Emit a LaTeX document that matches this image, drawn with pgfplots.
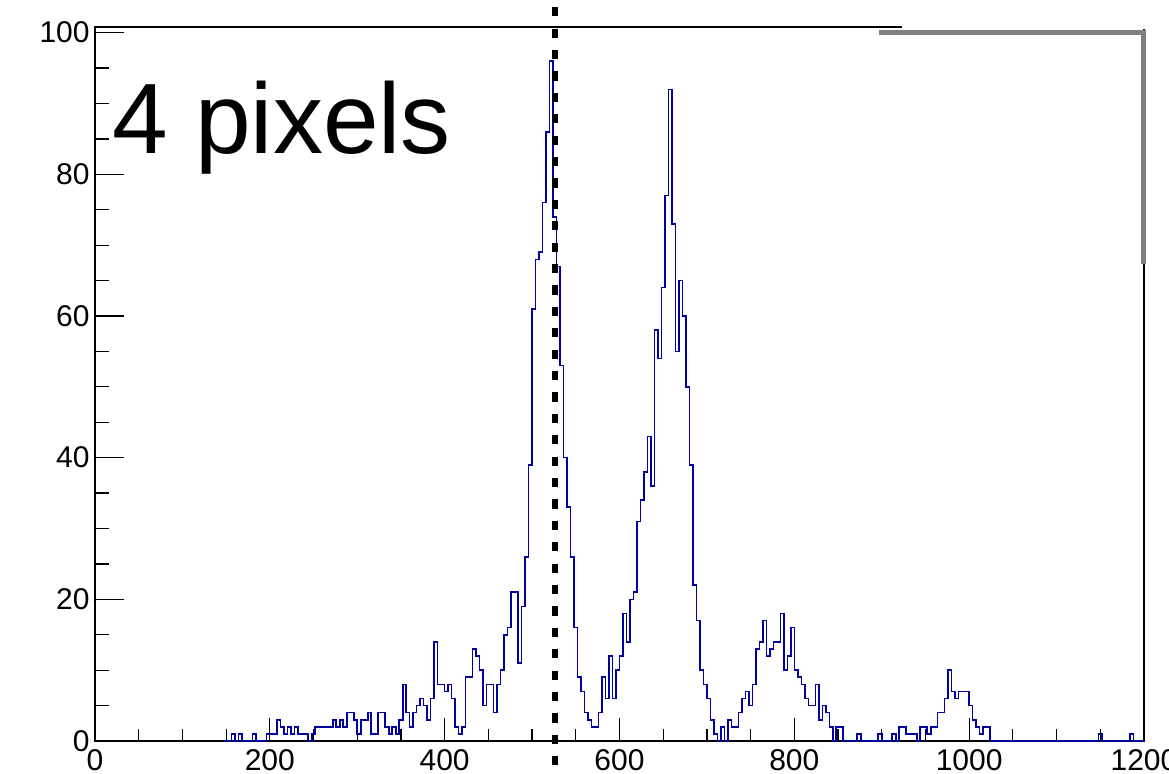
\documentclass[border=0pt]{standalone}
\usepackage{pgfplots}
\pgfplotsset{compat=1.18}
\usepackage{fontspec}
\setmainfont{Liberation Sans}
\definecolor{histblue}{RGB}{0,0,160}
\definecolor{boxgrey}{RGB}{128,128,128}
\begin{document}
\begin{tikzpicture}
\begin{axis}[
  at={(0,0)}, anchor=south west,
  scale only axis, width=524.5pt, height=357pt,
  xmin=0, xmax=1200, ymin=0, ymax=100.8,
  xtick={0,200,...,1200}, ytick={0,20,...,100},
  minor x tick num=3, minor y tick num=3,
  tick align=inside, tick pos=left,
  major tick length=11.5pt, minor tick length=6pt,
  xtick style={/pgfplots/major tick length=11.5pt,/pgfplots/minor tick length=6pt},
  ytick style={/pgfplots/major tick length=14.5pt,/pgfplots/minor tick length=7pt},
  every tick/.style={black, line width=0.6pt},
  axis line style={line width=0.7pt},
  tick label style={font=\fontsize{15}{15}\selectfont},
  yticklabel style={inner sep=0pt, xshift=-2.5pt},
  xticklabel style={inner sep=0pt, yshift=-4.3pt},
  /pgf/number format/assume math mode=true,
  /pgf/number format/set thousands separator={},
  clip=false,
]
\addplot[const plot, histblue, line width=0.8pt] coordinates {
(148,0)(152,0)(156,1)(160,0)(164,1)(168,0)(172,0)(176,0)(180,1)(184,0)
(188,0)(192,0)(196,1)(200,1)(204,1)(208,3)(212,2)(216,1)(220,2)(224,1)
(228,2)(232,1)(236,1)(240,1)(244,0)(248,1)(252,2)(256,2)(260,2)(264,2)
(268,2)(272,3)(276,2)(280,3)(284,2)(288,4)(292,4)(296,3)(300,1)(304,3)
(308,3)(312,4)(316,1)(320,1)(324,4)(328,4)(332,2)(336,1)(340,2)(344,1)
(348,3)(352,8)(356,4)(360,2)(364,4)(368,5)(372,6)(376,5)(380,3)(384,6)
(388,14)(392,8)(396,8)(400,7)(404,8)(408,6)(412,2)(416,1)(420,2)(424,9)
(428,9)(432,13)(436,12)(440,10)(444,5)(448,8)(452,8)(456,4)(460,8)(464,10)
(468,15)(472,16)(476,21)(480,21)(484,11)(488,19)(492,26)(496,39)(500,61)(504,68)
(508,69)(512,76)(516,86)(520,96)(524,74)(528,67)(532,53)(536,40)(540,33)(544,26)
(548,16)(552,9)(556,7)(560,4)(564,3)(568,2)(572,2)(576,4)(580,9)(584,6)
(588,12)(592,6)(596,10)(600,12)(604,18)(608,14)(612,20)(616,21)(620,31)(624,34)
(628,38)(632,43)(636,36)(640,58)(644,54)(648,64)(652,77)(656,92)(660,73)(664,55)
(668,65)(672,60)(676,50)(680,39)(684,22)(688,17)(692,10)(696,8)(700,6)(704,3)
(708,1)(712,0)(716,2)(720,0)(724,3)(728,2)(732,2)(736,4)(740,6)(744,7)
(748,5)(752,8)(756,13)(760,14)(764,17)(768,12)(772,13)(776,14)(780,14)(784,18)
(788,10)(792,12)(796,16)(800,10)(804,9)(808,8)(812,6)(816,5)(820,5)(824,8)
(828,3)(832,5)(836,4)(840,2)(844,0)(848,2)(852,2)(856,0)(872,1)(876,0)
(896,1)(900,0)(912,1)(916,0)(920,2)(924,2)(928,1)(932,1)(936,1)(940,0)
(944,2)(948,2)(952,1)(956,2)(960,2)(964,4)(968,4)(972,6)(976,10)(980,7)
(984,6)(988,7)(992,7)(996,7)(1000,5)(1004,3)(1008,2)(1012,1)(1016,2)(1020,2)
(1024,0)(1148,1)(1152,0)(1184,1)(1188,0)(1200,0)
};
\draw[white, line width=1.6pt] (axis cs:923,100.8) -- (axis cs:1202,100.8);
\draw[boxgrey, line width=2.5pt] (axis cs:896.8,100.07) -- (axis cs:1199.4,100.07) -- (axis cs:1199.4,67.4);
\draw[black, line width=2.6pt, dash pattern=on 4.6pt off 6.1pt] (axis cs:526.3,103.6) -- (axis cs:526.3,-6);
\node[anchor=base west, inner sep=0pt, font=\fontsize{50}{50}\selectfont] at (axis cs:19,83) {4 pixels};
\end{axis}
\pgfresetboundingbox
\path (-47.5pt,-16pt) rectangle (537pt,370.5pt);
\end{tikzpicture}
\end{document}
